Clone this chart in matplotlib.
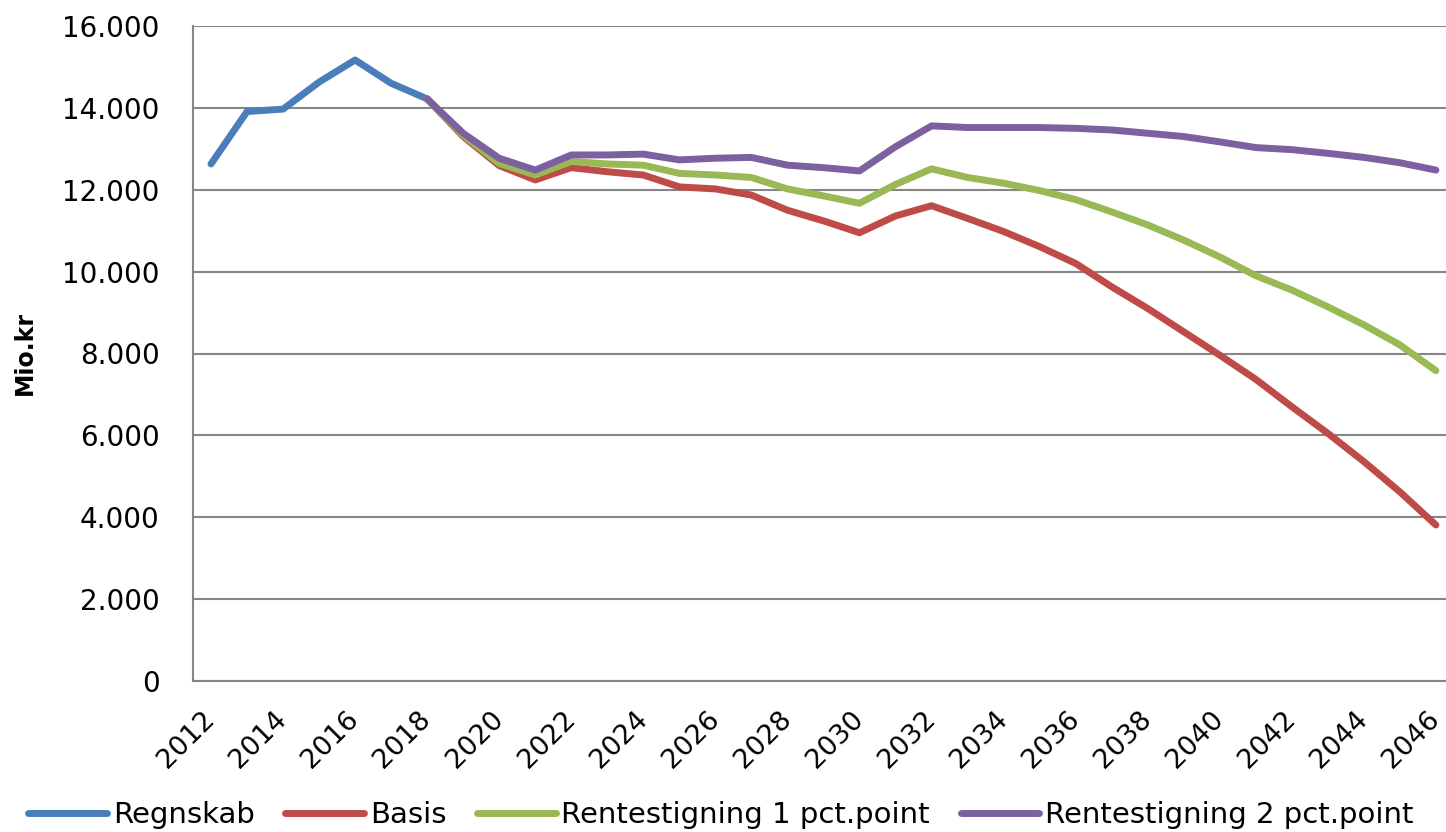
import numpy as np
import matplotlib.pyplot as plt
from matplotlib.ticker import FuncFormatter

plt.rcParams['font.family'] = ['DejaVu Sans']

# data (mio. kr)
years = list(range(2012, 2047))
regnskab_years = list(range(2012, 2019))
regnskab = [12630, 13910, 13970, 14630, 15170, 14600, 14220]

prognose_years = list(range(2018, 2047))
basis = [14220, 13300, 12590, 12240, 12540, 12440, 12360, 12070, 12020, 11870,
         11500, 11240, 10950, 11360, 11610, 11300, 10980, 10610, 10200, 9630,
         9100, 8530, 7960, 7370, 6700, 6050, 5360, 4620, 3810]
rente1 = [14220, 13330, 12640, 12360, 12690, 12630, 12600, 12400, 12360, 12300,
          12020, 11850, 11670, 12130, 12510, 12300, 12160, 11980, 11760, 11460,
          11140, 10770, 10360, 9900, 9550, 9140, 8700, 8210, 7580]
rente2 = [14220, 13380, 12770, 12480, 12850, 12850, 12870, 12730, 12770, 12790,
          12600, 12540, 12460, 13050, 13560, 13520, 13520, 13520, 13500, 13460,
          13380, 13300, 13170, 13030, 12980, 12890, 12790, 12660, 12480]

labels = ['Regnskab', 'Basis', 'Rentestigning 1 pct.point', 'Rentestigning 2 pct.point']
colors = ['#4A7EBB', '#BE4B48', '#98B954', '#7D60A0']

fig = plt.figure(figsize=(14.46, 8.32), dpi=100)
ax = fig.add_axes([193/1446, 1-681/832, 1-193/1446, (681-26)/832])

idx = lambda ys: [y - years[0] for y in ys]
series = [(regnskab_years, regnskab), (prognose_years, basis),
          (prognose_years, rente1), (prognose_years, rente2)]
for (xs, vals), lab, c in zip(series, labels, colors):
    ax.plot(idx(xs), vals, color=c, lw=5, label=lab,
            solid_capstyle='round', solid_joinstyle='round')

ax.set_xlim(-0.5, 34.28)
ax.set_ylim(0, 16000)
ax.set_yticks(np.arange(0, 16001, 2000))
ax.yaxis.set_major_formatter(FuncFormatter(lambda v, p: f'{int(v):,}'.replace(',', '.')))
ax.set_xticks(idx(years[::2]))
ax.set_xticklabels([str(y) for y in years[::2]], rotation=45, ha='right',
                   va='center', rotation_mode='anchor')
ax.tick_params(axis='y', length=0, pad=24, labelsize=20)
ax.tick_params(axis='x', length=0, pad=25, labelsize=19.5)

ax.grid(axis='y', color='#868686', lw=1.5)
ax.set_axisbelow(True)
for s in ['top', 'right']:
    ax.spines[s].set_visible(False)
for s in ['left', 'bottom']:
    ax.spines[s].set_color('#868686')
    ax.spines[s].set_linewidth(1.5)

fig.text(25/1446, 1-353/832, 'Mio.kr', rotation=90, ha='center', va='center',
         fontsize=17, fontweight='bold')

fig.legend(loc='center', bbox_to_anchor=(0.4986, 1-815/832), ncol=4, frameon=False,
           fontsize=21, handlelength=2.7, handletextpad=0.2, columnspacing=1.05)

fig.savefig('out.png', dpi=100)
